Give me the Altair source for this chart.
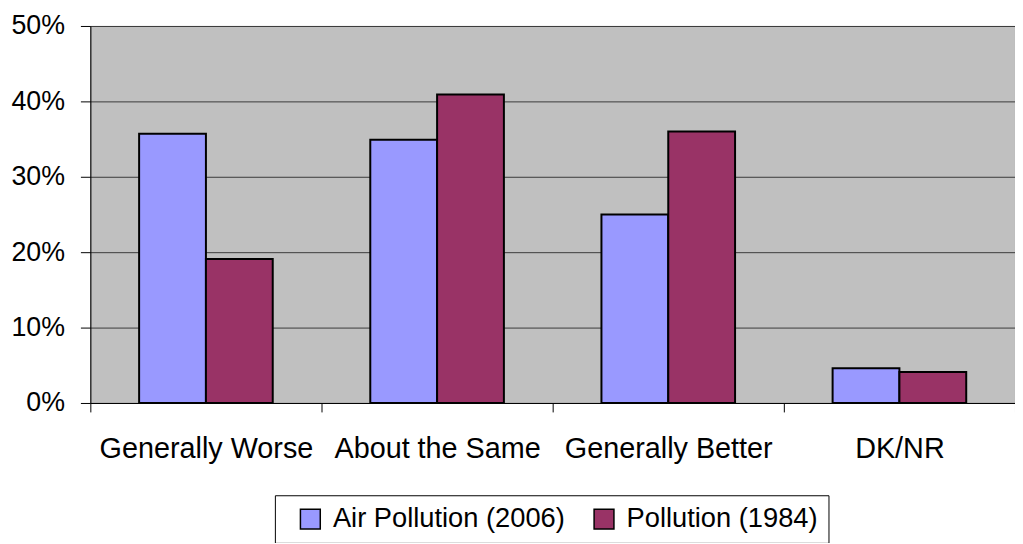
import altair as alt
import pandas as pd

categories = ["Generally Worse", "About the Same", "Generally Better", "DK/NR"]
series = ["Air Pollution (2006)", "Pollution (1984)"]
air_2006 = [0.357, 0.349, 0.250, 0.046]
pollution_1984 = [0.191, 0.409, 0.360, 0.041]
colors = ["#9999FF", "#993366"]
y_ticks = [0, 0.1, 0.2, 0.3, 0.4, 0.5]

rows = []
for i, c in enumerate(categories):
    rows.append({"category": c, "series": series[0], "value": air_2006[i]})
    rows.append({"category": c, "series": series[1], "value": pollution_1984[i]})
df = pd.DataFrame(rows)

FONT = "Liberation Sans"

chart = alt.Chart(df).mark_bar(stroke="black", strokeWidth=2).encode(
    x=alt.X(
        "category:N", sort=categories, title=None,
        scale=alt.Scale(paddingInner=0, paddingOuter=0),
        axis=alt.Axis(labelAngle=0, tickBand="extent", tickSize=9, tickColor="black",
                      tickWidth=1, domainColor="black", domainWidth=1,
                      labelFontSize=29, labelPadding=23, labelColor="black",
                      labelFont=FONT, grid=False, labelLimit=400),
    ),
    xOffset=alt.XOffset("series:N", sort=series,
                        scale=alt.Scale(paddingOuter=0.73, paddingInner=0)),
    y=alt.Y(
        "value:Q", title=None,
        scale=alt.Scale(domain=[0, 0.5], nice=False),
        axis=alt.Axis(format=".0%", values=y_ticks, tickSize=10, tickColor="black",
                      domainColor="black", labelFontSize=27, labelPadding=16,
                      labelColor="black", labelFont=FONT, grid=True,
                      gridColor="#3a3a3a", gridWidth=1),
    ),
    color=alt.Color(
        "series:N", sort=series,
        scale=alt.Scale(domain=series, range=colors),
        legend=alt.Legend(orient="none", legendX=186, legendY=473, direction="horizontal",
                          title=None, strokeColor="black", fillColor="white",
                          padding=10, symbolOffset=12,
                          symbolType="square", symbolSize=400,
                          symbolStrokeColor="black", symbolStrokeWidth=1.5,
                          labelFontSize=27.5, labelFont=FONT, labelColor="black",
                          labelOffset=9, columnPadding=13, labelLimit=400),
    ),
).properties(
    width=932, height=380, autosize="none",
    padding={"left": 83, "top": 16, "right": 0, "bottom": 139},
).configure_view(fill="#C0C0C0", stroke="#808080")

chart.save("out.html", embed_options={"renderer": "svg", "actions": False})
